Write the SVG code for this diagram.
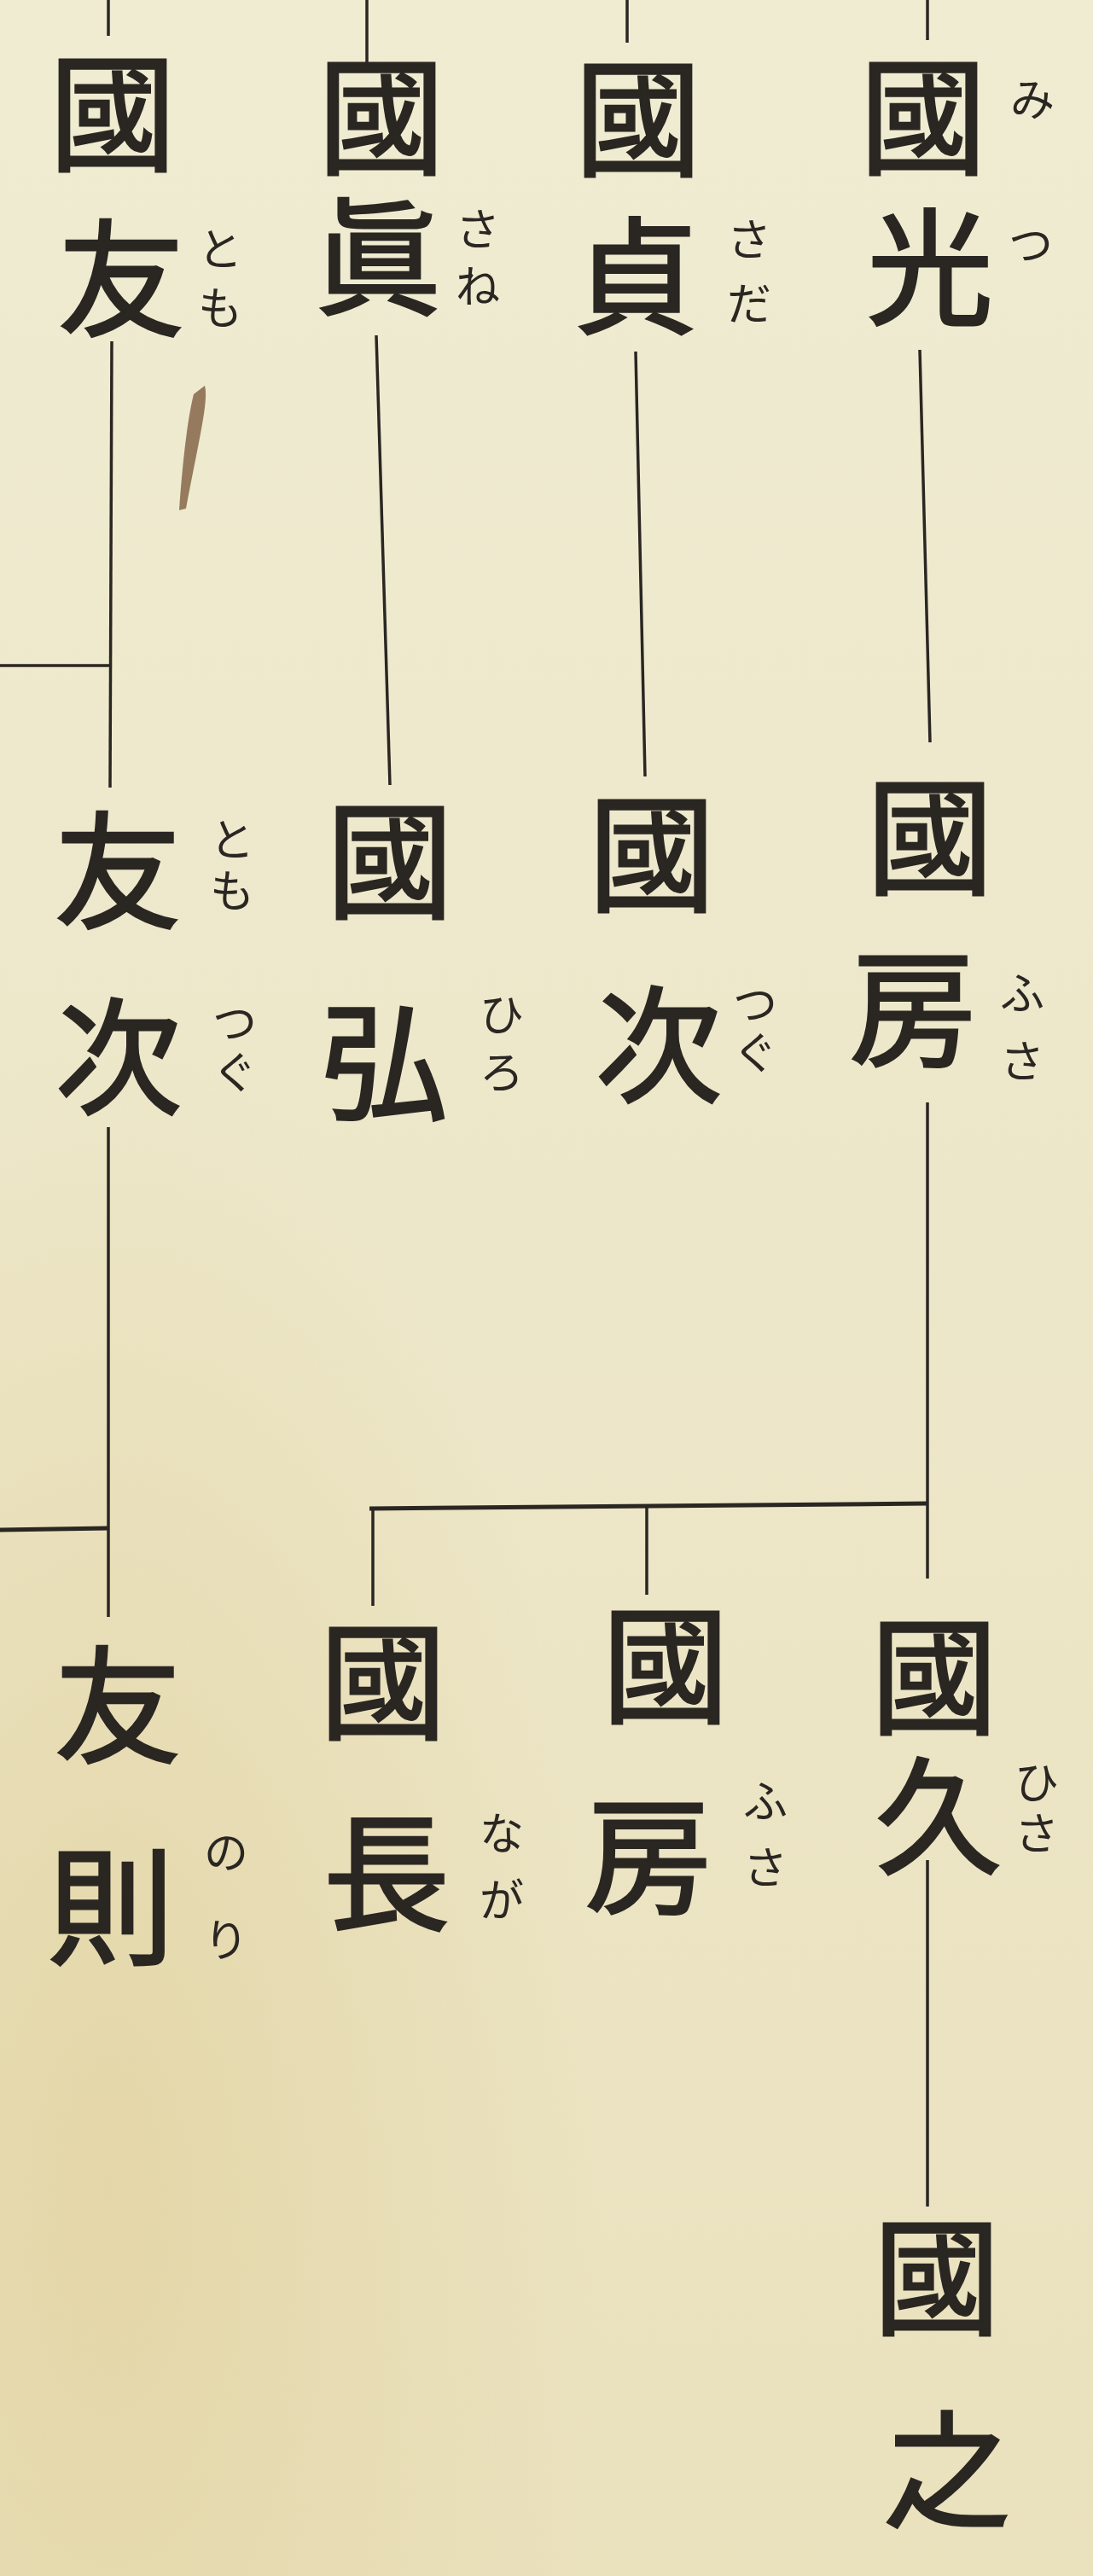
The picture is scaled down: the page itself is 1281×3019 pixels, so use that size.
<svg xmlns="http://www.w3.org/2000/svg" width="1281" height="3019" viewBox="0 0 1281 3019">
<defs>
<style>
.k{font-family:"Noto Sans CJK JP","Noto Sans CJK TC",sans-serif;font-weight:400;font-size:148px;fill:#2a2622;stroke:#2a2622;stroke-width:3;text-anchor:middle}
.f{font-family:"Noto Sans CJK JP","Noto Sans CJK TC",sans-serif;font-weight:400;font-size:52px;fill:#2a2622;text-anchor:middle}
.ln{stroke:#2a2622;stroke-width:3.5;fill:none}
.hl{stroke:#2a2622;stroke-width:5;fill:none}
</style>
<linearGradient id="paper" x1="0" y1="0" x2="0" y2="1">
<stop offset="0" stop-color="#efecd2"/>
<stop offset="0.5" stop-color="#ede7c9"/>
<stop offset="1" stop-color="#eae1bd"/>
</linearGradient>
<radialGradient id="stain" cx="0.1" cy="0.85" r="0.45">
<stop offset="0" stop-color="#e2d3a2" stop-opacity="0.8"/>
<stop offset="1" stop-color="#e2d3a2" stop-opacity="0"/>
</radialGradient>
</defs>
<rect width="1281" height="3019" fill="url(#paper)"/>
<rect width="1281" height="3019" fill="url(#stain)"/>
<path d="M240,452 C245,470 232,520 218,596 L210,598 C214,540 220,490 227,462 Z" fill="#86664a" opacity="0.85"/>

<g id="connectors">
<line class="ln" x1="127" y1="0" x2="127" y2="42"/>
<line class="ln" x1="131" y1="400" x2="129" y2="923"/>
<line class="ln" x1="0" y1="780" x2="129" y2="780"/>
<line class="ln" x1="127" y1="1321" x2="127" y2="1895"/>
<line class="hl" x1="0" y1="1793" x2="127" y2="1791"/>
<line class="ln" x1="430" y1="0" x2="430" y2="77"/>
<line class="ln" x1="441" y1="393" x2="457" y2="920"/>
<line class="ln" x1="735" y1="0" x2="735" y2="50"/>
<line class="ln" x1="745" y1="412" x2="756" y2="910"/>
<line class="ln" x1="1087" y1="0" x2="1087" y2="47"/>
<line class="ln" x1="1078" y1="410" x2="1090" y2="870"/>
<line class="ln" x1="1087" y1="1292" x2="1087" y2="1850"/>
<line class="hl" x1="433" y1="1768" x2="1087" y2="1762"/>
<line class="ln" x1="437" y1="1768" x2="437" y2="1882"/>
<line class="ln" x1="758" y1="1765" x2="758" y2="1869"/>
<line class="ln" x1="1087" y1="2180" x2="1087" y2="2586"/>
</g>

<g id="n-kunitomo">
<text class="k" x="132" y="188">國</text><text class="k" x="142" y="382">友</text>
<text class="f" x="258" y="311">と</text><text class="f" x="258" y="380">も</text>
</g>
<g id="n-kunizane">
<text class="k" x="447" y="192">國</text><text class="k" x="443" y="357">眞</text>
<text class="f" x="560" y="288">さ</text><text class="f" x="560" y="355">ね</text>
</g>
<g id="n-kunisada">
<text class="k" x="748" y="194">國</text><text class="k" x="745" y="379">貞</text>
<text class="f" x="878" y="300">さ</text><text class="f" x="878" y="375">だ</text>
</g>
<g id="n-kunimitsu">
<text class="k" x="1082" y="192">國</text><text class="k" x="1090" y="369">光</text>
<text class="f" x="1210" y="136">み</text><text class="f" x="1208" y="306">つ</text>
</g>

<g id="n-tomotsugu">
<text class="k" x="138" y="1076">友</text><text class="k" x="139" y="1294">次</text>
<text class="f" x="272" y="1003">と</text><text class="f" x="272" y="1063">も</text>
<text class="f" x="275" y="1218">つ</text><text class="f" x="275" y="1276">ぐ</text>
</g>
<g id="n-kunihiro">
<text class="k" x="457" y="1064">國</text><text class="k" x="450" y="1300">弘</text>
<text class="f" x="588" y="1208">ひ</text><text class="f" x="588" y="1276">ろ</text>
</g>
<g id="n-kunitsugu">
<text class="k" x="764" y="1056">國</text><text class="k" x="772" y="1280">次</text>
<text class="f" x="885" y="1196">つ</text><text class="f" x="885" y="1253">ぐ</text>
</g>
<g id="n-kunifusa">
<text class="k" x="1090" y="1036">國</text><text class="k" x="1070" y="1237">房</text>
<text class="f" x="1198" y="1183">ふ</text><text class="f" x="1198" y="1263">さ</text>
</g>

<g id="n-tomonori">
<text class="k" x="138" y="2054">友</text><text class="k" x="130" y="2290">則</text>
<text class="f" x="265" y="2190">の</text><text class="f" x="265" y="2293">り</text>
</g>
<g id="n-kuninaga">
<text class="k" x="449" y="2026">國</text><text class="k" x="453" y="2250">長</text>
<text class="f" x="588" y="2168">な</text><text class="f" x="588" y="2246">が</text>
</g>
<g id="n-kunifusa2">
<text class="k" x="780" y="2007">國</text><text class="k" x="760" y="2230">房</text>
<text class="f" x="897" y="2130">ふ</text><text class="f" x="897" y="2208">さ</text>
</g>
<g id="n-kunihisa">
<text class="k" x="1095" y="2020">國</text><text class="k" x="1100" y="2184">久</text>
<text class="f" x="1215" y="2108">ひ</text><text class="f" x="1215" y="2168">さ</text>
</g>

<g id="n-kuniyuki">
<text class="k" x="1098" y="2724">國</text><text class="k" x="1110" y="2950">之</text>
</g>
</svg>
